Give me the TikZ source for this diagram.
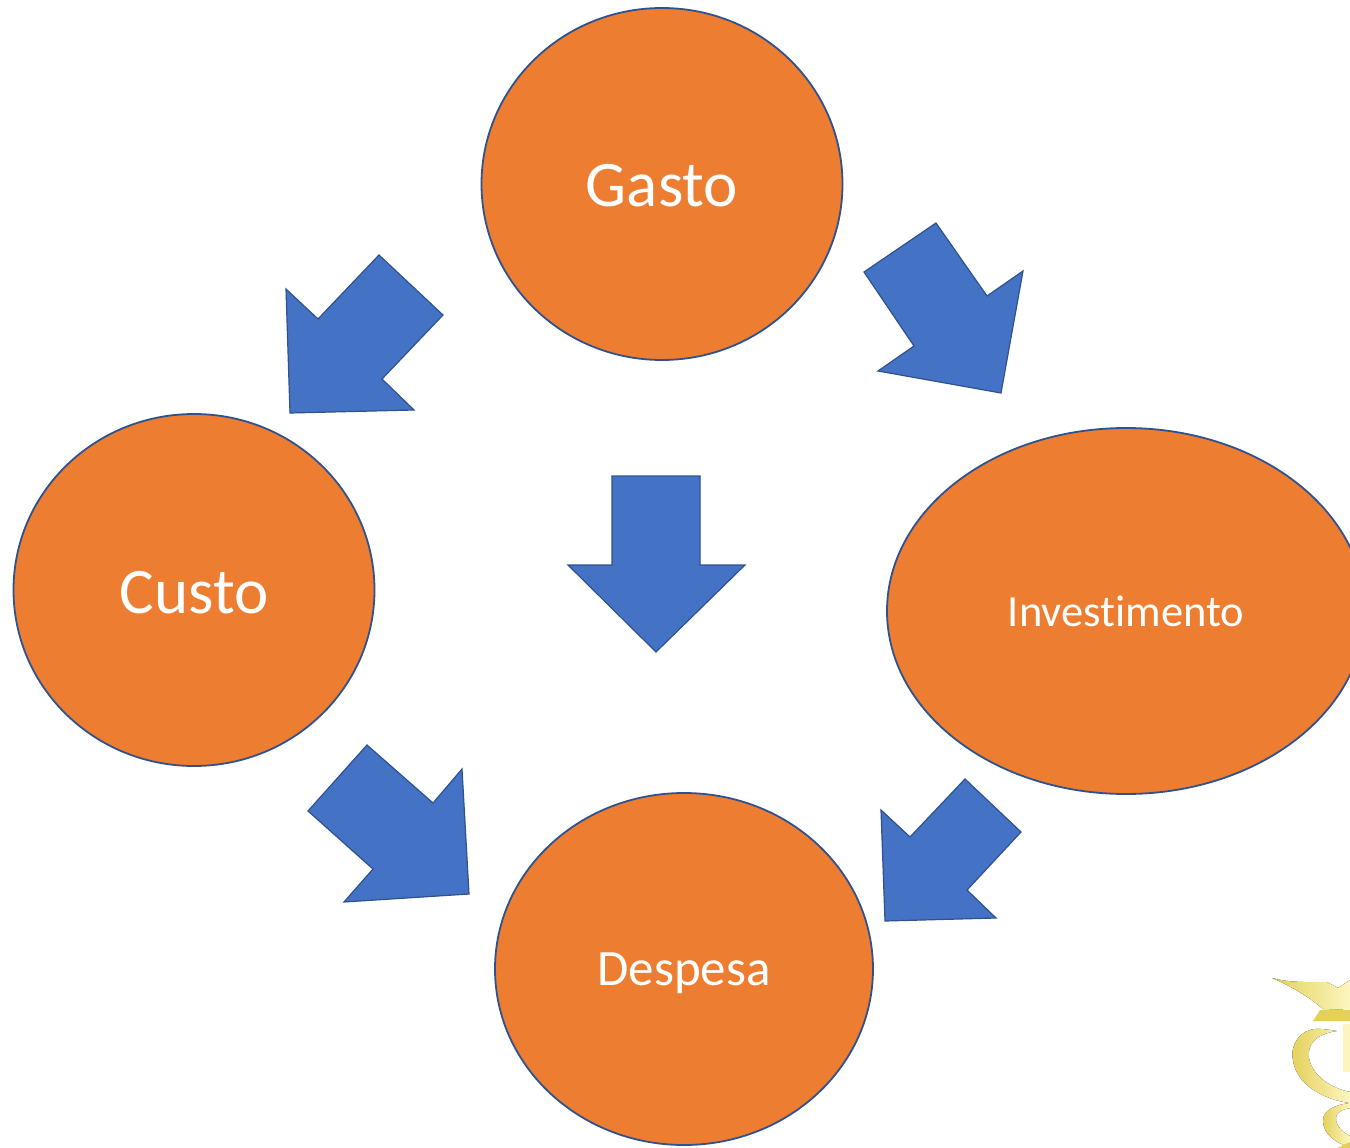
\documentclass[tikz,border=0pt]{standalone}
\usepackage{fontspec}
\setmainfont[RawFeature={-liga}]{Carlito}
\usetikzlibrary{shapes.geometric}
\definecolor{orangefill}{RGB}{237,125,49}
\definecolor{bluefill}{RGB}{68,114,196}
\definecolor{blueline}{RGB}{47,82,143}
\definecolor{goldlight}{RGB}{252,246,190}
\definecolor{golddark}{RGB}{228,208,90}
\newcommand{\lowertext}[2]{\raisebox{-#1pt}[0pt][0pt]{#2}}
\begin{document}
\begin{tikzpicture}[x=1pt,y=-1pt,
		every node/.style={inner sep=0pt, text=white},
		term/.style={ellipse, draw=blueline, fill=orangefill, line width=1.8pt},
		blockarrow/.style={draw=blueline, fill=bluefill, line width=1.2pt},
		wingpart/.style={left color=golddark, right color=goldlight},
		snakepart/.style={left color=golddark, right color=goldlight}
		]
		\useasboundingbox (0,0) rectangle (1350,1148);
		
		% Circles
		\node[term, minimum width=361, minimum height=352, font=\fontsize{65}{65}\selectfont] at (662,184) (gastonode) {\lowertext{22}{Gasto}};
		\node[term, minimum width=361, minimum height=352, font=\fontsize{65}{65}\selectfont] at (194,590) (custonode) {\lowertext{23}{Custo}};
		\node[term, minimum width=478, minimum height=366, font=\fontsize{44.5}{44.5}\selectfont] at (1126,611) (investnode) {\lowertext{15}{Investimento}};
		\node[term, minimum width=378, minimum height=352, font=\fontsize{51}{51}\selectfont] at (684,969) (despesanode) {\lowertext{16.5}{Despesa}};
		
		% Arrows
		\draw[blockarrow] (379,255) -- (443,315) -- (382,379) -- (414,410) -- (290,413) -- (286,289) -- (318,319) -- cycle;
		\draw[blockarrow] (936,223) -- (987,296) -- (1023,271) -- (1001,393) -- (878,371) -- (914,346) -- (864,272) -- cycle;
		\draw[blockarrow] (612,476) -- (700,476) -- (700,565) -- (745,565) -- (656,652) -- (568,565) -- (612,565) -- cycle;
		\draw[blockarrow] (367,745) -- (433,803) -- (462,769) -- (469,894) -- (344,902) -- (373,869) -- (308,811) -- cycle;
		\draw[blockarrow] (965,779) -- (1021,832) -- (967,890) -- (996,918) -- (885,921) -- (881,810) -- (910,837) -- cycle;
		
		% Emblem
		\fill[wingpart] (1272,978) .. controls (1290,983) and (1310,982) .. (1327,982) -- (1338,988) -- (1350,980) -- (1350,1010) -- (1323,1009) .. controls (1310,998) and (1295,988) .. cycle;
		\fill[golddark] (1320,1010) -- (1350,1010) -- (1350,1021) -- (1313,1021) -- cycle;
		\fill[goldlight] (1343,1024) -- (1350,1024) -- (1350,1072) -- (1343,1072) -- cycle;
		\fill[snakepart] (1337,1031) .. controls (1325,1029) and (1315,1028) .. (1310,1030) .. controls (1296,1034) and (1290,1050) .. (1293,1060) .. controls (1296,1085) and (1325,1100) .. (1350,1103) -- (1350,1092) .. controls (1330,1088) and (1312,1075) .. (1309,1058) .. controls (1307,1045) and (1315,1034) .. cycle;
		\fill[snakepart] (1350,1103) .. controls (1332,1105) and (1322,1112) .. (1323,1122) .. controls (1324,1134) and (1335,1143) .. (1350,1147) -- (1350,1136) .. controls (1342,1132) and (1335,1125) .. (1336,1117) .. controls (1337,1112) and (1343,1109) .. (1350,1108) -- cycle;
		\fill[golddark] (1337,1148) -- (1350,1142) -- (1350,1148) -- cycle;
	\end{tikzpicture}
\end{document}
